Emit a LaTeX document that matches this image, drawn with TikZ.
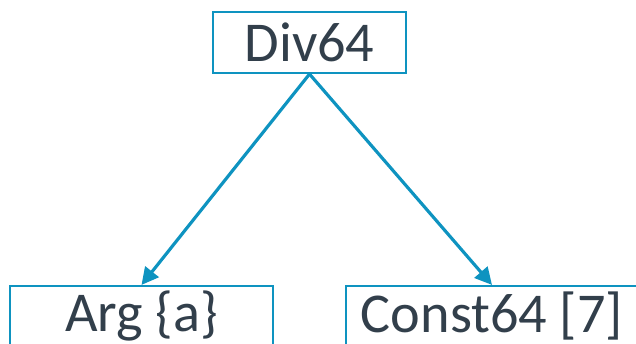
\documentclass[tikz,border=0pt]{standalone}
\usepackage{fontspec}
\setmainfont{Carlito}
\usetikzlibrary{arrows.meta,positioning}
\definecolor{edgeblue}{RGB}{14,147,192}
\definecolor{labelgray}{RGB}{50,63,75}

\begin{document}
\begin{tikzpicture}[
    opbox/.style={draw=edgeblue,line width=1.2pt,fill=white,text=labelgray,
        font=\fontsize{32}{38}\selectfont,minimum height=1.22cm,inner sep=0pt},
    edge/.style={draw=edgeblue,line width=1.8pt,-{Stealth[length=0.34cm,width=0.34cm,inset=0pt]}}
]
\useasboundingbox (0,0) rectangle (12.72,6.88);
\clip (0,0) rectangle (12.72,6.88);
\node[opbox,minimum width=3.86cm] (div) at (6.19,6.03) {Div64};
\node[opbox,minimum width=5.26cm] (arg) at (2.83,0.55) {Arg \{a\}};
\node[opbox,minimum width=5.84cm] (const) at (9.84,0.55) {Const64 [7]};
\draw[edge] (div.south) -- (arg.north);
\draw[edge] (div.south) -- (const.north);
\end{tikzpicture}
\end{document}
